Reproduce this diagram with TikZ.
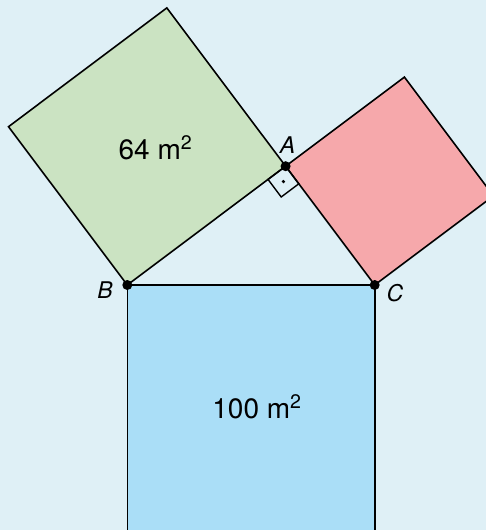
\documentclass[tikz,border=0pt]{standalone}
\usepackage{fontspec}
\setmainfont{TeX Gyre Heros}
\definecolor{bgc}{RGB}{223,240,246}
\definecolor{greenc}{RGB}{203,227,194}
\definecolor{redc}{RGB}{246,168,171}
\definecolor{bluec}{RGB}{170,222,247}
\begin{document}
\begin{tikzpicture}[x=1pt,y=-1pt,
  sq/.style={draw=black, line width=1.6pt, line join=miter},
  vdot/.style={fill=black},
  area/.style={anchor=base, inner sep=0pt, font=\fontsize{28}{28}\selectfont},
  vlab/.style={anchor=base, inner sep=0pt, font=\fontsize{23}{23}\selectfont\itshape}]
\useasboundingbox (0,0) rectangle (486,530);
\clip (0,0) rectangle (486,530);
\fill[bgc] (0,0) rectangle (486,530);
% triangle vertices
\coordinate (B) at (127.3,285);
\coordinate (C) at (374.7,285);
\coordinate (A) at (285.6,166.2);
% square corners
\coordinate (G1) at (166.8,7.9);
\coordinate (G2) at (8.5,126.7);
\coordinate (R1) at (404.4,77.1);
\coordinate (R2) at (493.5,195.9);
\coordinate (U1) at (374.7,532.4);
\coordinate (U2) at (127.3,532.4);
% right angle mark corners
\coordinate (M1) at (268.0,179.4);
\coordinate (M2) at (281.2,197.0);
\coordinate (M3) at (298.8,183.8);
\coordinate (MC) at (283.4,181.6);
% squares
\filldraw[sq, fill=bluec] (B) -- (C) -- (U1) -- (U2) -- cycle;
\filldraw[sq, fill=greenc] (B) -- (A) -- (G1) -- (G2) -- cycle;
\filldraw[sq, fill=redc] (A) -- (C) -- (R2) -- (R1) -- cycle;
% right angle
\draw[line width=1.4pt] (A) -- (M1) -- (M2) -- (M3) -- cycle;
\fill (MC) circle (1.8);
% vertex dots
\fill[vdot] (A) circle (5);
\fill[vdot] (B) circle (5);
\fill[vdot] (C) circle (5);
% labels
\node[vlab] (lA) at (287.5,153) {A};
\node[vlab] (lB) at (105,298) {B};
\node[vlab] (lC) at (395,301) {C};
\node[area] (a64) at (155.5,159) {64 m\textsuperscript{2}};
\node[area] (a100) at (257,418) {100 m\textsuperscript{2}};
\end{tikzpicture}
\end{document}
